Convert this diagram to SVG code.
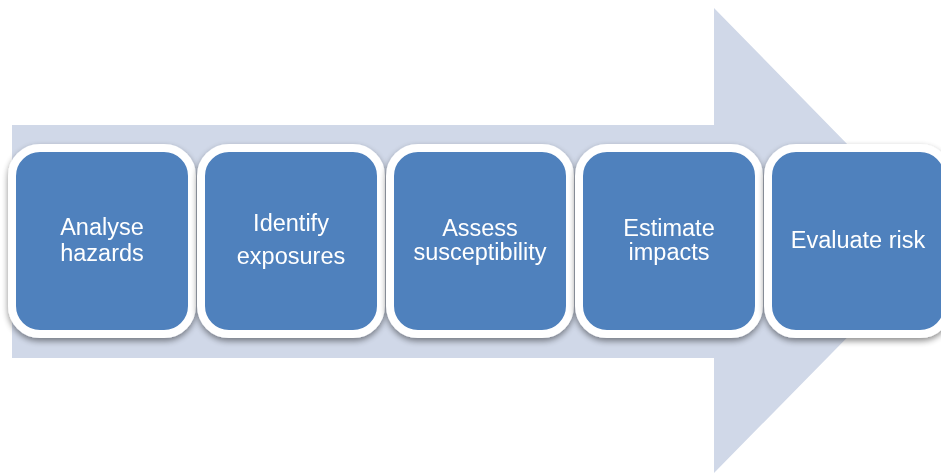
<svg xmlns="http://www.w3.org/2000/svg" width="941" height="473" viewBox="0 0 941 473">
  <defs>
    <filter id="sh" x="-10%" y="-10%" width="120%" height="125%">
      <feGaussianBlur in="SourceAlpha" stdDeviation="3"/>
      <feOffset dx="0" dy="3" result="b"/>
      <feComponentTransfer><feFuncA type="linear" slope="0.45"/></feComponentTransfer>
      <feMerge><feMergeNode/><feMergeNode in="SourceGraphic"/></feMerge>
    </filter>
  </defs>
  <style>
    .box { fill: #4F81BD; stroke: #FFFFFF; stroke-width: 8; }
    .lbl { font-family: "Liberation Sans", Arial, sans-serif; font-size: 23.5px; fill: #FFFFFF; text-anchor: middle; }
  </style>
  <rect width="941" height="473" fill="#FFFFFF"/>
  <g id="connectors">
    <polygon id="arrow" points="12,125 714,125 714,8 942,241 714,473 714,358 12,358" fill="#D0D8E8"/>
  </g>
  <g id="n1" filter="url(#sh)">
    <rect class="box" x="12" y="148" width="180" height="186" rx="28"/>
    <text class="lbl" x="102" y="235">Analyse</text>
    <text class="lbl" x="102" y="261">hazards</text>
  </g>
  <g id="n2" filter="url(#sh)">
    <rect class="box" x="201" y="148" width="180" height="186" rx="28"/>
    <text class="lbl" x="291" y="231">Identify</text>
    <text class="lbl" x="291" y="264">exposures</text>
  </g>
  <g id="n3" filter="url(#sh)">
    <rect class="box" x="390" y="148" width="180" height="186" rx="28"/>
    <text class="lbl" x="480" y="236">Assess</text>
    <text class="lbl" x="480" y="260">susceptibility</text>
  </g>
  <g id="n4" filter="url(#sh)">
    <rect class="box" x="579" y="148" width="180" height="186" rx="28"/>
    <text class="lbl" x="669" y="236">Estimate</text>
    <text class="lbl" x="669" y="260">impacts</text>
  </g>
  <g id="n5" filter="url(#sh)">
    <rect class="box" x="768" y="148" width="180" height="186" rx="28"/>
    <text class="lbl" x="858" y="248">Evaluate risk</text>
  </g>
</svg>
